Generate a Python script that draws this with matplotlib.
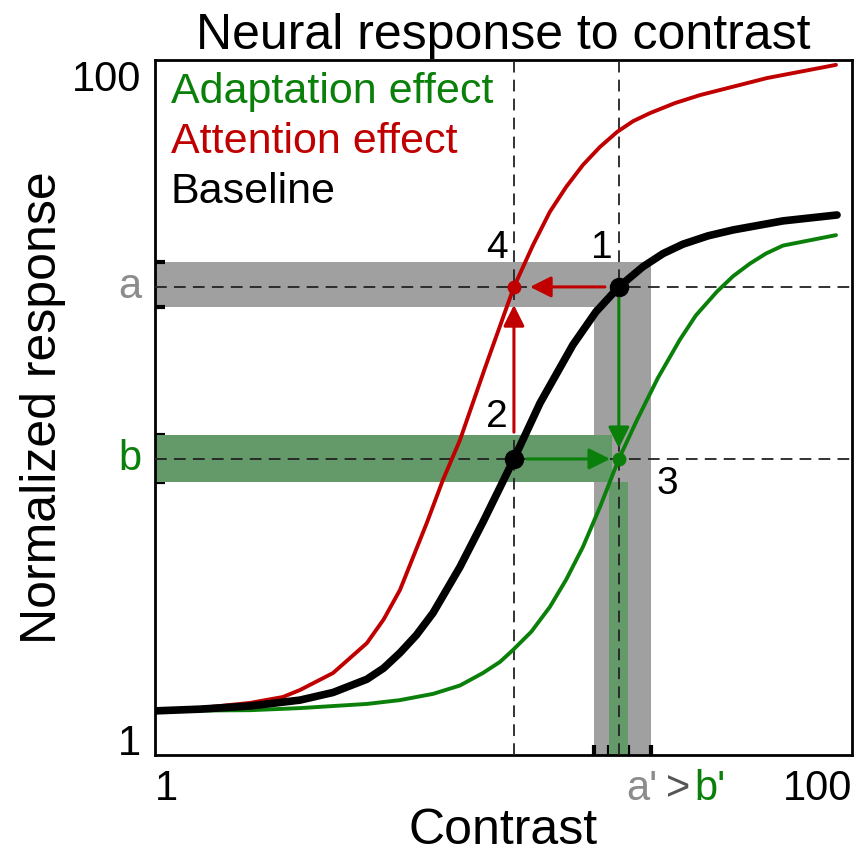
import matplotlib.pyplot as plt

plt.rcParams['font.family'] = ['Liberation Sans', 'DejaVu Sans']

# axes run in log10 units: 0 -> 1, 2 -> 100
log_contrast_base = [0.0, 0.129, 0.273, 0.416, 0.511, 0.608, 0.656, 0.703, 0.750, 0.798, 0.875, 0.941, 0.990, 1.030, 1.105, 1.199, 1.265, 1.331, 1.400, 1.458, 1.515, 1.587, 1.659, 1.802, 1.957]
log_resp_base = [0.127, 0.132, 0.141, 0.158, 0.180, 0.218, 0.250, 0.294, 0.345, 0.409, 0.541, 0.670, 0.770, 0.852, 1.013, 1.180, 1.275, 1.347, 1.405, 1.443, 1.470, 1.494, 1.511, 1.537, 1.554]

log_contrast_att = [0.0, 0.129, 0.273, 0.367, 0.416, 0.511, 0.608, 0.656, 0.703, 0.780, 0.826, 0.875, 0.947, 1.030, 1.085, 1.133, 1.180, 1.228, 1.277, 1.326, 1.372, 1.420, 1.492, 1.564, 1.756, 1.954]
log_resp_att = [0.127, 0.135, 0.150, 0.167, 0.187, 0.236, 0.322, 0.390, 0.475, 0.668, 0.791, 0.906, 1.114, 1.347, 1.468, 1.563, 1.635, 1.698, 1.750, 1.793, 1.824, 1.847, 1.876, 1.899, 1.948, 1.986]

log_contrast_adapt = [0.0, 0.273, 0.416, 0.608, 0.703, 0.798, 0.875, 0.941, 0.990, 1.027, 1.080, 1.133, 1.180, 1.228, 1.277, 1.331, 1.383, 1.443, 1.506, 1.552, 1.613, 1.659, 1.707, 1.753, 1.802, 1.954]
log_resp_adapt = [0.127, 0.129, 0.135, 0.147, 0.158, 0.176, 0.200, 0.236, 0.268, 0.302, 0.355, 0.426, 0.505, 0.599, 0.714, 0.852, 0.964, 1.085, 1.195, 1.265, 1.334, 1.378, 1.414, 1.443, 1.466, 1.496]

x_low, x_high = 1.030, 1.331        # contrasts of points 2/4 and 1/3
resp_a, resp_b = 1.347, 0.852       # responses a and b
band_a = (1.289, 1.419)
band_b = (0.786, 0.921)
band_a_prime = (1.260, 1.423)
band_b_prime = (1.303, 1.357)

RED = '#c00000'
GREEN = '#0a800a'
GRAY = '#8c8c8c'

fig = plt.figure(figsize=(8.6, 8.57), dpi=100)
ax = fig.add_axes([0.1802, 0.1190, 0.8105, 0.811])
ax.set_xlim(0, 2)
ax.set_ylim(0, 2)

# bands
ax.fill_between([0, band_a_prime[1]], band_a[0], band_a[1], color='#a0a0a0', lw=0, zorder=1)
ax.fill_between(band_a_prime, 0, band_a[1], color='#a0a0a0', lw=0, zorder=1)
ax.fill_between([0, 1.311], band_b[0], band_b[1], color='#64996a', lw=0, zorder=2)
ax.fill_between(band_b_prime, 0, band_b[0], color='#64996a', lw=0, zorder=2)

# dashed guides
for xv in [x_low, x_high]:
    ax.axvline(xv, color='#222222', lw=1.3, dashes=(6.5, 4), zorder=3)
for yv in [resp_a, resp_b]:
    ax.axhline(yv, color='#222222', lw=1.3, dashes=(6.5, 4), zorder=3)

# curves
ax.plot(log_contrast_adapt, log_resp_adapt, color=GREEN, lw=2.8, zorder=4,
        solid_capstyle='round', solid_joinstyle='round')
ax.plot(log_contrast_att, log_resp_att, color=RED, lw=2.8, zorder=4,
        solid_capstyle='round', solid_joinstyle='round')
ax.plot(log_contrast_base, log_resp_base, color='black', lw=5.5, zorder=5,
        solid_capstyle='round', solid_joinstyle='round')

# arrows
arr = dict(arrowstyle='-|>', mutation_scale=32, lw=2.2, shrinkA=0, shrinkB=0)
ax.annotate('', xy=(1.076, resp_a), xytext=(1.291, resp_a), arrowprops=dict(arr, color=RED), zorder=6)
ax.annotate('', xy=(x_low, 1.295), xytext=(x_low, 0.929), arrowprops=dict(arr, color=RED), zorder=6)
ax.annotate('', xy=(x_high, 0.883), xytext=(x_high, 1.315), arrowprops=dict(arr, color=GREEN), zorder=6)
ax.annotate('', xy=(1.306, resp_b), xytext=(1.067, resp_b), arrowprops=dict(arr, color=GREEN), zorder=6)

# points
ax.plot([x_high, x_low], [resp_a, resp_b], 'o', color='black', ms=13, zorder=7)
ax.plot([x_low], [resp_a], 'o', color=RED, ms=9, zorder=7)
ax.plot([x_high], [resp_b], 'o', color=GREEN, ms=9, zorder=7)

ax.text(x_high - 0.05, resp_a + 0.06, '1', fontsize=28, ha='center', va='bottom', zorder=8)
ax.text(x_low - 0.05, resp_a + 0.06, '4', fontsize=28, ha='center', va='bottom', zorder=8)
ax.text(x_low - 0.05, resp_b + 0.07, '2', fontsize=28, ha='center', va='bottom', zorder=8)
ax.text(x_high + 0.14, resp_b - 0.02, '3', fontsize=28, ha='center', va='top', zorder=8)

# legend text
ax.text(0.045, 1.965, 'Adaptation effect', color=GREEN, fontsize=31, va='top')
ax.text(0.045, 1.822, 'Attention effect', color=RED, fontsize=31, va='top')
ax.text(0.045, 1.679, 'Baseline', color='black', fontsize=31, va='top')

# ticks at band edges
ax.set_yticks(list(band_a) + list(band_b))
ax.set_xticks(list(band_a_prime) + list(band_b_prime) + [x_high])
ax.tick_params(direction='in', length=7, width=3, labelleft=False, labelbottom=False)
for t, c in zip(ax.yaxis.get_major_ticks(), ['black', 'black', GREEN, GREEN]):
    t.tick1line.set_color(c)
for t, c in zip(ax.xaxis.get_major_ticks(), ['black', 'black', GREEN, GREEN, GREEN]):
    t.tick1line.set_color(c)
ax.xaxis.get_major_ticks()[4].tick1line.set_markersize(4)
for s in ax.spines.values():
    s.set_linewidth(2)

# axis end labels
ax.text(-0.04, 2.0, '100', fontsize=30, ha='right', va='top')
ax.text(-0.04, 0.0, '1', fontsize=30, ha='right', va='baseline')
ax.text(0.0, -0.04, '1', fontsize=30, ha='left', va='top')
ax.text(2.0, -0.04, '100', fontsize=30, ha='right', va='top')
ax.text(-0.04, resp_a, 'a', fontsize=30, color=GRAY, ha='right', va='center')
ax.text(-0.04, resp_b, 'b', fontsize=30, color=GREEN, ha='right', va='center')
ax.text(1.443, -0.04, "a'", fontsize=30, color=GRAY, ha='right', va='top')
ax.text(1.501, -0.04, '>', fontsize=30, color='#555555', ha='center', va='top')
ax.text(1.547, -0.04, "b'", fontsize=30, color=GREEN, ha='left', va='top')

ax.set_xlabel('Contrast', fontsize=36, labelpad=38)
ax.set_ylabel('Normalized response', fontsize=36, labelpad=64)
ax.set_title('Neural response to contrast', fontsize=36, pad=8)

fig.savefig('out.png', dpi=100)
